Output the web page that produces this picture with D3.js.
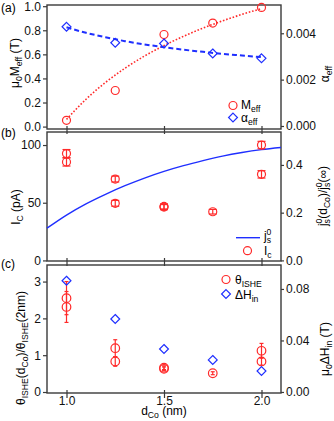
<!DOCTYPE html>
<meta charset="utf-8">
<style>
body { margin: 0; background: #fff; }
svg { font-family: "Liberation Sans", Arial, sans-serif; }
.frame { fill: none; stroke: #3a3a3a; stroke-width: 1.4; }
.axis path { display: none; }
.axis line { stroke: #3a3a3a; stroke-width: 1.2; }
.axis text { font-size: 12px; fill: #111; }
</style>
<svg width="334" height="421"></svg>
<script src="https://d3js.org/d3.v7.min.js"></script>
<script>

// x positions (Co thickness, nm)
var xTicks = [1.0, 1.5, 2.0];
var dCo = [1.0, 1.25, 1.5, 1.75, 2.0];

// (a) effective magnetization and damping
var mEff = [0.052, 0.30, 0.765, 0.86, 0.99];
var alphaEff = [0.00428, 0.00359, 0.00356, 0.00313, 0.00292];
var fitD = [1.0, 1.1, 1.2, 1.3, 1.4, 1.5, 1.6, 1.7, 1.8, 1.9, 2.0];
var mEffFit = [0.06, 0.227, 0.367, 0.485, 0.586, 0.673, 0.75, 0.818, 0.878, 0.932, 0.98];
var alphaFit = [0.00426, 0.00402, 0.00383, 0.00366, 0.00352, 0.0034, 0.00329, 0.0032, 0.00311, 0.00304, 0.00297];

// (b) critical current and spin current ratio
var icD = [1.0, 1.0, 1.25, 1.25, 1.5, 1.5, 1.75, 2.0, 2.0];
var ic = [92.6, 85.3, 70.5, 49.5, 46.8, 46.2, 42.2, 100, 74.6];
var icErr = [3.5, 3.5, 2.5, 2.5, 2.2, 2.2, 2, 3.2, 3.2];
var jsD = [0.9, 1.0, 1.1, 1.2, 1.3, 1.4, 1.5, 1.6, 1.7, 1.8, 1.9, 2.0, 2.1];
var jsRatio = [0.135, 0.19, 0.237, 0.277, 0.313, 0.345, 0.373, 0.397, 0.418, 0.437, 0.452, 0.464, 0.473];

// (c) normalized spin Hall angle and inhomogeneous broadening
var thD = [1.0, 1.0, 1.25, 1.25, 1.5, 1.5, 1.75, 2.0, 2.0];
var theta = [2.55, 2.31, 1.19, 0.83, 0.66, 0.63, 0.51, 1.12, 0.83];
var thetaErr = [0.45, 0.42, 0.23, 0.13, 0.05, 0.05, 0.04, 0.2, 0.1];
var dHin = [0.0864, 0.0567, 0.0334, 0.0249, 0.0163];

var RED = "#ff2a2a", BLUE = "#1f2fff";

var svg = d3.select("svg");
var L = 47, R = 281;

var x = d3.scaleLinear().domain([0.9, 2.1]).range([L, R]);

var panels = [
  { top: 5, bottom: 129, yl: [-0.02, 1.01], yr: [-0.00013, 0.00522],
    lt: [0, 0.2, 0.4, 0.6, 0.8, 1.0], lf: d3.format(".1f"),
    rt: [0, 0.002, 0.004], rf: d3.format(".3f"), tag: "(a)", tagY: 12 },
  { top: 132, bottom: 261, yl: [-0.5, 111.3], yr: [-0.0025, 0.538],
    lt: [0, 50, 100], lf: d3.format("d"),
    rt: [0, 0.2, 0.4], rf: d3.format(".1f"), tag: "(b)", tagY: 137 },
  { top: 265, bottom: 393, yl: [-0.027, 3.45], yr: [-0.0008, 0.0986],
    lt: [0, 1, 2, 3], lf: d3.format("d"),
    rt: [0, 0.04, 0.08], rf: d3.format(".2f"), tag: "(c)", tagY: 268 }
];

// text with sub/superscripts
function rich(sel, parts, fs) {
  var shift = 0;
  parts.forEach(function(p) {
    var k = p[1] || "";
    var target = k == "sub" ? fs * 0.26 : (k == "sup" ? -fs * 0.42 : 0);
    var t = sel.append("tspan")
      .attr("dy", target - shift)
      .attr("font-size", k ? fs * 0.72 : fs)
      .text(p[0]);
    if (p[2]) t.attr("dx", p[2]);
    shift = target;
  });
  return sel;
}

panels.forEach(function(p, i) {
  p.y = d3.scaleLinear().domain(p.yl).range([p.bottom, p.top]);
  p.y2 = d3.scaleLinear().domain(p.yr).range([p.bottom, p.top]);

  var gx = svg.append("g").attr("class", "axis")
    .attr("transform", "translate(0," + p.bottom + ")")
    .call(d3.axisBottom(x).tickValues(xTicks).tickSize(5)
      .tickFormat(i == 2 ? d3.format(".1f") : ""));
  gx.selectAll(".tick line").attr("y1", -3);
  gx.selectAll("text").attr("y", 3).attr("dy", "0.71em");

  svg.append("g").attr("class", "axis")
    .attr("transform", "translate(" + L + ",0)")
    .call(d3.axisLeft(p.y).tickValues(p.lt).tickFormat(p.lf).tickSize(4).tickPadding(2));

  svg.append("g").attr("class", "axis")
    .attr("transform", "translate(" + R + ",0)")
    .call(d3.axisRight(p.y2).tickValues(p.rt).tickFormat(p.rf).tickSize(3).tickPadding(2));

  svg.append("rect").attr("class", "frame")
    .attr("x", L).attr("y", p.top)
    .attr("width", R - L).attr("height", p.bottom - p.top);

  svg.append("text").attr("x", 1).attr("y", p.tagY)
    .attr("font-size", 12).text(p.tag);
});

var pa = panels[0], pb = panels[1], pc = panels[2];

function circles(g, xs, ys, sy, r) {
  g.selectAll(null).data(ys).enter().append("circle")
    .attr("cx", function(d, i) { return x(xs[i]); })
    .attr("cy", function(d) { return sy(d); })
    .attr("r", r)
    .attr("fill", "none").attr("stroke", RED).attr("stroke-width", 1.2);
}
var diamond = d3.symbol().type(d3.symbolDiamond2).size(50);
function diamonds(g, xs, ys, sy) {
  g.selectAll(null).data(ys).enter().append("path")
    .attr("d", diamond)
    .attr("transform", function(d, i) { return "translate(" + x(xs[i]) + "," + sy(d) + ")"; })
    .attr("fill", "none").attr("stroke", BLUE).attr("stroke-width", 1.2);
}
function errbars(g, xs, ys, es, sy, cap) {
  var eb = g.selectAll(null).data(ys).enter().append("g")
    .attr("stroke", RED).attr("stroke-width", 1.2);
  eb.append("line")
    .attr("x1", function(d, i) { return x(xs[i]); })
    .attr("x2", function(d, i) { return x(xs[i]); })
    .attr("y1", function(d, i) { return sy(d + es[i]); })
    .attr("y2", function(d, i) { return sy(d - es[i]); });
  [1, -1].forEach(function(s) {
    eb.append("line")
      .attr("x1", function(d, i) { return x(xs[i]) - cap; })
      .attr("x2", function(d, i) { return x(xs[i]) + cap; })
      .attr("y1", function(d, i) { return sy(d + s * es[i]); })
      .attr("y2", function(d, i) { return sy(d + s * es[i]); });
  });
}

// ---- panel (a)
var ga = svg.append("g");
ga.append("path")
  .attr("d", d3.line().curve(d3.curveMonotoneX)
    .x(function(d, i) { return x(fitD[i]); }).y(function(d) { return pa.y(d); })(mEffFit))
  .attr("fill", "none").attr("stroke", RED).attr("stroke-width", 1.6)
  .attr("stroke-dasharray", "1.6,1.8");
ga.append("path")
  .attr("d", d3.line().curve(d3.curveMonotoneX)
    .x(function(d, i) { return x(fitD[i]); }).y(function(d) { return pa.y2(d); })(alphaFit))
  .attr("fill", "none").attr("stroke", BLUE).attr("stroke-width", 2)
  .attr("stroke-dasharray", "5,3");
circles(ga, dCo, mEff, pa.y, 4);
diamonds(ga, dCo, alphaEff, pa.y2);

// ---- panel (b)
var gb = svg.append("g");
gb.append("path")
  .attr("d", d3.line().curve(d3.curveMonotoneX)
    .x(function(d, i) { return x(jsD[i]); }).y(function(d) { return pb.y2(d); })(jsRatio))
  .attr("fill", "none").attr("stroke", BLUE).attr("stroke-width", 1.4);
errbars(gb, icD, ic, icErr, pb.y, 4);
circles(gb, icD, ic, pb.y, 4);

// ---- panel (c)
var gc = svg.append("g");
errbars(gc, thD, theta, thetaErr, pc.y, 2);
circles(gc, thD, theta, pc.y, 4.3);
diamonds(gc, dCo, dHin, pc.y2);

// ---- legends
var leg = svg.append("g");
leg.append("circle").attr("cx", 233).attr("cy", 105.5).attr("r", 4)
  .attr("fill", "none").attr("stroke", RED).attr("stroke-width", 1.2);
leg.append("path").attr("d", diamond).attr("transform", "translate(233,117.5)")
  .attr("fill", "none").attr("stroke", BLUE).attr("stroke-width", 1.2);
rich(leg.append("text").attr("x", 241).attr("y", 109), [["M"], ["eff", "sub"]], 12);
rich(leg.append("text").attr("x", 241).attr("y", 121.5), [["α"], ["eff", "sub"]], 12);

leg.append("line").attr("x1", 236).attr("x2", 260).attr("y1", 237.7).attr("y2", 237.7)
  .attr("stroke", BLUE).attr("stroke-width", 1.4);
leg.append("circle").attr("cx", 247.5).attr("cy", 250.7).attr("r", 4)
  .attr("fill", "none").attr("stroke", RED).attr("stroke-width", 1.2);
rich(leg.append("text").attr("x", 264).attr("y", 240), [["j"], ["s", "sub"], ["0", "sup", -4.5]], 12);
rich(leg.append("text").attr("x", 264).attr("y", 255), [["I"], ["c", "sub"]], 12);

leg.append("circle").attr("cx", 226).attr("cy", 279.5).attr("r", 4)
  .attr("fill", "none").attr("stroke", RED).attr("stroke-width", 1.2);
leg.append("path").attr("d", diamond).attr("transform", "translate(226,294)")
  .attr("fill", "none").attr("stroke", BLUE).attr("stroke-width", 1.2);
rich(leg.append("text").attr("x", 235).attr("y", 284), [["θ"], ["ISHE", "sub"]], 12);
rich(leg.append("text").attr("x", 235).attr("y", 299), [["ΔH"], ["in", "sub"]], 12);

// ---- axis titles
function vtitle(cx, cy, parts) {
  var t = svg.append("text").attr("text-anchor", "middle")
    .attr("transform", "translate(" + cx + "," + cy + ") rotate(-90)");
  rich(t, parts, 12);
}
vtitle(19, 63, [["μ"], ["0", "sub"], ["M"], ["eff", "sub"], [" (T)"]]);
vtitle(20, 207, [["I"], ["C", "sub"], [" (pA)"]]);
vtitle(25, 348, [["θ"], ["ISHE", "sub"], ["(d"], ["Co", "sub"], [")/θ"], ["ISHE", "sub"], ["(2nm)"]]);
vtitle(329, 74, [["α"], ["eff", "sub"]]);
vtitle(327, 196, [["j"], ["s", "sub"], ["0", "sup", -4.5], ["(d"], ["Co", "sub"], [")/j"], ["s", "sub"], ["0", "sup", -4.5], ["(∞)"]]);
vtitle(329, 349, [["μ"], ["0", "sub"], ["ΔH"], ["in", "sub"], [" (T)"]]);

rich(svg.append("text").attr("x", 164).attr("y", 415).attr("text-anchor", "middle"),
  [["d"], ["Co", "sub"], [" (nm)"]], 12);

</script>
